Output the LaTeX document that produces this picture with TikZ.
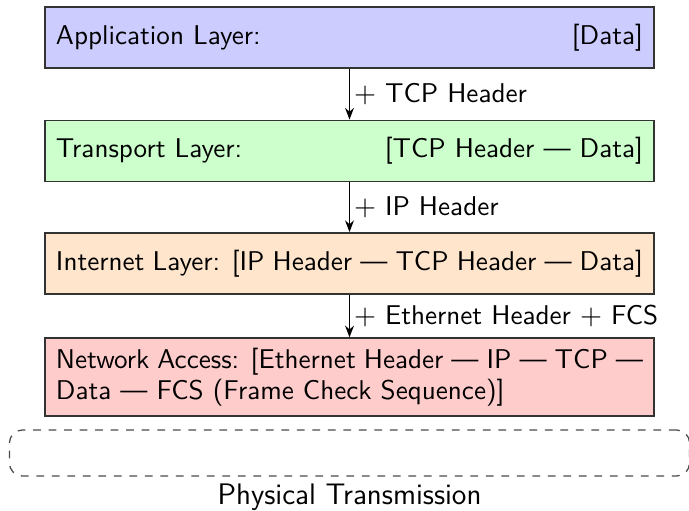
\documentclass[tikz,border=0pt]{standalone}
\usetikzlibrary{arrows.meta}
\begin{document}
\begin{tikzpicture}[
  x=0.387pt, y=-0.387pt,
  font=\fontsize{10.5}{12}\selectfont\sffamily,
  layer/.style={draw=black!80, line width=0.7pt,
    minimum width=235.7pt, text width=227.2pt, inner xsep=4.25pt,
    minimum height=23.6pt, inner ysep=0pt, align=justify},
  encap/.style={draw=black, line width=0.7pt,
    -{Stealth[length=4.5pt, width=3.4pt]}},
  hdr/.style={right, inner xsep=1.4pt},
  medium/.style={draw=black!70, line width=0.5pt, dashed,
    rounded corners=5pt, minimum width=263.2pt, minimum height=17.8pt}
]
\useasboundingbox (0,0) rectangle (689,511);

% protocol layers, top to bottom
\node[layer, fill=blue!20]   (app) at (349.5,37.5)
  {Application Layer:\hfill[Data]};
\node[layer, fill=green!20]  (tra) at (349.5,151)
  {Transport Layer:\hfill[TCP Header --- Data]};
\node[layer, fill=orange!20] (int) at (349.5,263.5)
  {Internet Layer: [IP Header --- TCP Header --- Data]\linebreak[0]};
\node[layer, fill=red!20, minimum height=30pt] (net) at (349.5,377)
  {Network Access: [Ethernet Header --- IP --- TCP ---\linebreak
   Data --- FCS (Frame Check Sequence)]};

% encapsulation steps
\draw[encap] (app) -- (tra) node[midway, hdr] {$+$ TCP Header};
\draw[encap] (tra) -- (int) node[midway, hdr] {$+$ IP Header};
\draw[encap] (int) -- (net) node[midway, hdr] {$+$ Ethernet Header $+$ FCS};

% physical medium
\node[medium] (phy) at (349.5,453) {};
\node[font=\fontsize{11.5}{13.5}\selectfont\sffamily] (phylabel) at (349.5,497)
  {Physical Transmission};
\end{tikzpicture}
\end{document}
